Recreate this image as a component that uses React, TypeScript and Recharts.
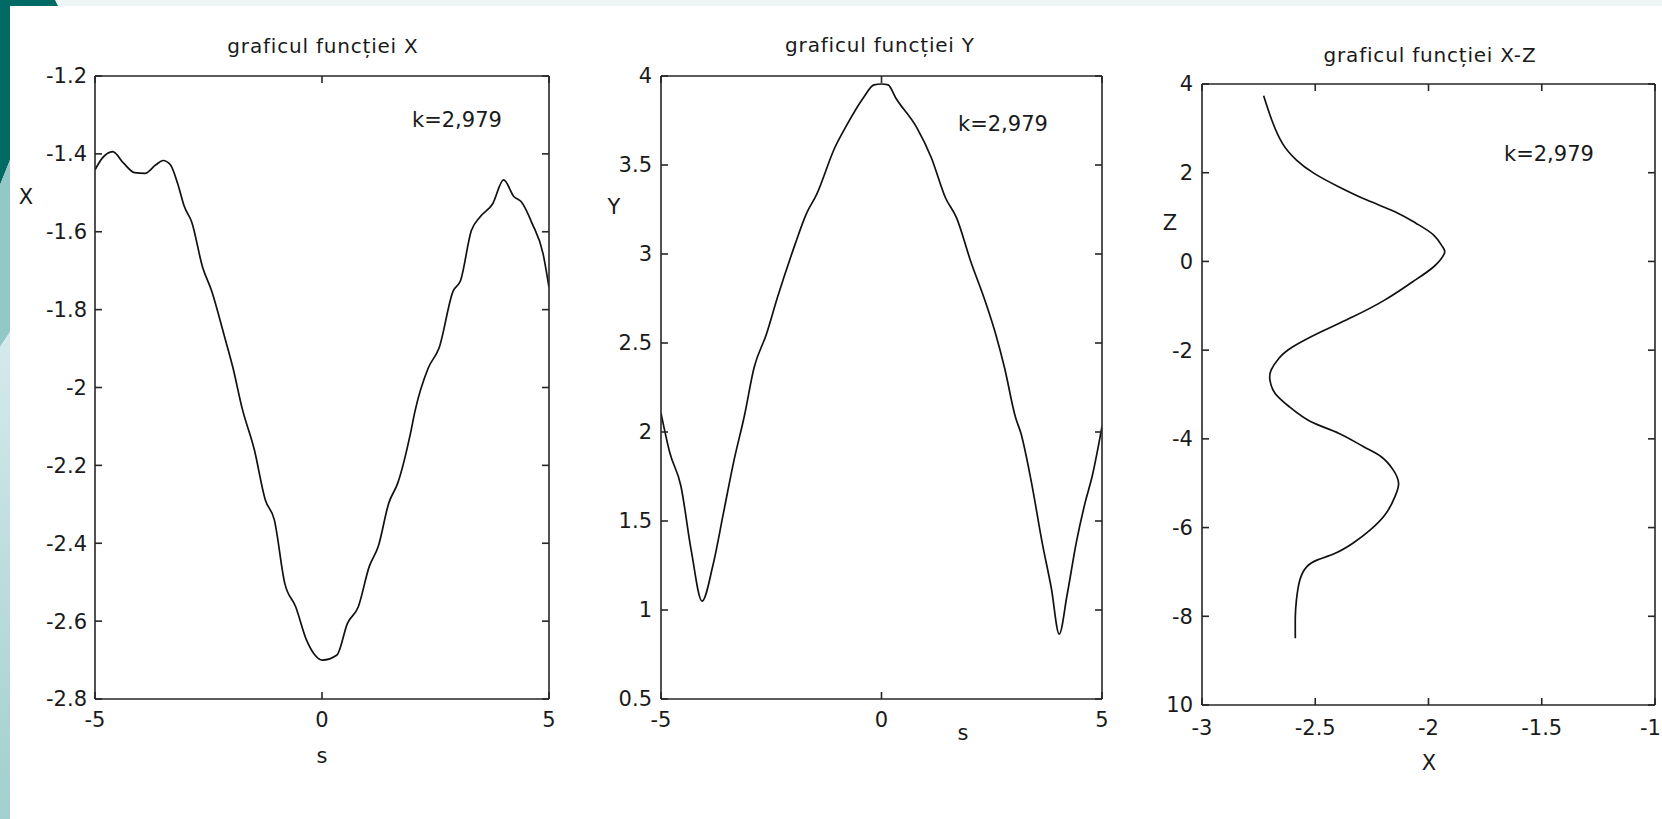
import { LineChart, Line, XAxis, YAxis } from 'recharts'

// graficul functiei X : s -> X
const sForX = [-5, -4.84, -4.61, -4.37, -4.13, -3.9, -3.66, -3.5, -3.34, -3.18, -3.03, -2.87, -2.63, -2.43, -2.16, -1.96, -1.76, -1.49, -1.25, -1.05, -0.82, -0.58, -0.34, -0.17, 0.01, 0.33, 0.56, 0.8, 1.04, 1.24, 1.47, 1.67, 1.95, 2.05, 2.34, 2.58, 2.89, 3.05, 3.29, 3.48, 3.76, 4.0, 4.23, 4.39, 4.63, 4.87, 5]
const xValues = [-1.441, -1.411, -1.394, -1.424, -1.448, -1.45, -1.428, -1.417, -1.428, -1.476, -1.536, -1.575, -1.691, -1.752, -1.864, -1.95, -2.053, -2.16, -2.288, -2.34, -2.503, -2.563, -2.649, -2.685, -2.7, -2.687, -2.606, -2.563, -2.46, -2.408, -2.297, -2.245, -2.117, -2.06, -1.95, -1.898, -1.752, -1.726, -1.597, -1.562, -1.528, -1.467, -1.51, -1.523, -1.579, -1.657, -1.743]

// graficul functiei Y : s -> Y
const sForY = [-5, -4.8, -4.55, -4.31, -4.07, -3.82, -3.58, -3.34, -3.11, -2.89, -2.61, -2.36, -1.96, -1.71, -1.47, -1.06, -0.82, -0.41, -0.17, 0, 0.15, 0.32, 0.8, 1.13, 1.45, 1.7, 2.02, 2.35, 2.59, 2.79, 3.04, 3.16, 3.4, 3.64, 3.85, 4.03, 4.21, 4.42, 4.62, 4.78, 5]
const yValues = [2.106, 1.883, 1.698, 1.328, 1.05, 1.254, 1.55, 1.846, 2.09, 2.361, 2.549, 2.755, 3.054, 3.223, 3.335, 3.597, 3.71, 3.878, 3.95, 3.955, 3.95, 3.878, 3.71, 3.541, 3.316, 3.204, 2.961, 2.736, 2.549, 2.361, 2.081, 1.994, 1.717, 1.383, 1.124, 0.865, 1.087, 1.383, 1.606, 1.754, 2.03]

// graficul functiei X-Z : parametric curve, in drawing order
const xzX = [-2.728, -2.692, -2.645, -2.583, -2.505, -2.397, -2.272, -2.148, -2.054, -1.977, -1.938, -1.93, -1.977, -2.07, -2.194, -2.334, -2.474, -2.599, -2.661, -2.695, -2.7, -2.677, -2.614, -2.521, -2.397, -2.288, -2.21, -2.156, -2.132, -2.148, -2.187, -2.257, -2.334, -2.412, -2.49, -2.537, -2.568, -2.583, -2.588, -2.588]
const xzZ = [3.737, 3.188, 2.662, 2.286, 1.985, 1.684, 1.383, 1.12, 0.857, 0.594, 0.331, 0.18, -0.12, -0.459, -0.872, -1.248, -1.586, -1.925, -2.188, -2.451, -2.677, -2.977, -3.278, -3.609, -3.872, -4.173, -4.398, -4.699, -5.0, -5.301, -5.677, -6.053, -6.353, -6.579, -6.729, -6.88, -7.18, -7.632, -8.008, -8.496]

const sTicks = [-5, 0, 5]
const xTicks = [-2.8, -2.6, -2.4, -2.2, -2, -1.8, -1.6, -1.4, -1.2]
const yTicks = [0.5, 1, 1.5, 2, 2.5, 3, 3.5, 4]
const xzXTicks = [-3, -2.5, -2, -1.5, -1]
const zTicks = [-10, -8, -6, -4, -2, 0, 2, 4]
const zTickLabels = ['10', '-8', '-6', '-4', '-2', '0', '2', '4']

const titles = ['graficul funcției X', 'graficul funcției Y', 'graficul funcției X-Z']
const kLabel = 'k=2,979'

const dataX = sForX.map((s, i) => ({ s, v: xValues[i] }))
const dataY = sForY.map((s, i) => ({ s, v: yValues[i] }))
const dataXZ = xzX.map((x, i) => ({ x, z: xzZ[i] }))

const FONT = '"DejaVu Sans", sans-serif'
const INK = '#1a1a1a'
const frame = { stroke: '#262626', strokeWidth: 1.6 }
const tickText = { fill: INK, fontSize: 21, fontFamily: FONT }

// bottom tick label; a label that would run past the page edge is pulled back inside
function BottomTick(props: any) {
  const { x, y, payload, limit } = props
  const label = String(payload.value)
  const half = (label.length * 11) / 2
  const atEdge = x + half > limit
  return (
    <text
      x={atEdge ? limit : x}
      y={y}
      dy={15}
      textAnchor={atEdge ? 'end' : 'middle'}
      fill={INK}
      fontSize={21}
      fontFamily={FONT}
    >
      {label}
    </text>
  )
}

// mirrored box sides keep their tick marks but carry no labels
const noLabel = () => <g />

interface PanelProps {
  left: number
  width: number
  margin: { top: number; right: number; bottom: number; left: number }
  data: Record<string, number>[]
  xKey: string
  yKey: string
  xDomain: [number, number]
  xTicks: number[]
  yDomain: [number, number]
  yTicks: number[]
  xTickMargin: number
  yTickMargin: number
  yFormat?: (v: number) => string
  curve: 'monotone' | 'natural' | 'linear'
}

function Panel(p: PanelProps) {
  const limit = p.width - 1
  return (
    <div style={{ position: 'absolute', left: p.left, top: 0 }}>
      <LineChart width={p.width} height={819} data={p.data} margin={p.margin}>
        <XAxis
          xAxisId="b"
          dataKey={p.xKey}
          type="number"
          domain={p.xDomain}
          ticks={p.xTicks}
          allowDataOverflow
          interval={0}
          height={60}
          axisLine={frame}
          tickLine={frame}
          tickSize={-7}
          tickMargin={p.xTickMargin}
          tick={(props: any) => <BottomTick {...props} limit={limit} />}
        />
        <XAxis
          xAxisId="t"
          orientation="top"
          dataKey={p.xKey}
          type="number"
          domain={p.xDomain}
          ticks={p.xTicks}
          allowDataOverflow
          interval={0}
          height={1}
          axisLine={frame}
          tickLine={frame}
          tickSize={-7}
          tick={noLabel}
        />
        <YAxis
          yAxisId="l"
          dataKey={p.yKey}
          type="number"
          domain={p.yDomain}
          ticks={p.yTicks}
          allowDataOverflow
          interval={0}
          width={60}
          axisLine={frame}
          tickLine={frame}
          tickSize={-7}
          tickMargin={p.yTickMargin}
          tick={tickText}
          tickFormatter={p.yFormat}
        />
        <YAxis
          yAxisId="r"
          orientation="right"
          dataKey={p.yKey}
          type="number"
          domain={p.yDomain}
          ticks={p.yTicks}
          allowDataOverflow
          interval={0}
          width={1}
          axisLine={frame}
          tickLine={frame}
          tickSize={-7}
          tick={noLabel}
        />
        <Line
          xAxisId="b"
          yAxisId="l"
          dataKey={p.yKey}
          type={p.curve}
          stroke="#111"
          strokeWidth={1.7}
          dot={false}
          activeDot={false}
          isAnimationActive={false}
        />
      </LineChart>
    </div>
  )
}

export default function App() {
  return (
    <div
      style={{
        position: 'absolute',
        left: 0,
        top: 0,
        width: 1662,
        height: 819,
        overflow: 'hidden',
        background: '#fff',
      }}
    >
      {/* slide decoration on the left and top */}
      <svg width={1662} height={819} style={{ position: 'absolute', left: 0, top: 0 }}>
        <defs>
          <linearGradient id="strip" x1="0" y1="0" x2="0" y2="1">
            <stop offset="0%" stopColor="#d6eaea" />
            <stop offset="100%" stopColor="#a2cfcf" />
          </linearGradient>
        </defs>
        <rect x={0} y={0} width={1662} height={6} fill="#eef5f5" />
        <polygon points="0,0 55,0 58,6 10,6 10,160 0,185" fill="#006a64" />
        <polygon points="0,185 10,160 10,332 0,347" fill="#93c8c8" />
        <polygon points="0,347 10,332 10,819 0,819" fill="url(#strip)" />
      </svg>

      <Panel
        left={0}
        width={560}
        margin={{ top: 75, right: 10, bottom: 60, left: 35 }}
        data={dataX}
        xKey="s"
        yKey="v"
        xDomain={[-5, 5]}
        xTicks={sTicks}
        yDomain={[-2.8, -1.2]}
        yTicks={xTicks}
        xTickMargin={20}
        yTickMargin={15}
        curve="monotone"
      />
      <Panel
        left={560}
        width={560}
        margin={{ top: 75, right: 17, bottom: 60, left: 41 }}
        data={dataY}
        xKey="s"
        yKey="v"
        xDomain={[-5, 5]}
        xTicks={sTicks}
        yDomain={[0.5, 4]}
        yTicks={yTicks}
        xTickMargin={20}
        yTickMargin={16}
        curve="monotone"
      />
      <Panel
        left={1110}
        width={552}
        margin={{ top: 83, right: 6, bottom: 54, left: 32 }}
        data={dataXZ}
        xKey="x"
        yKey="z"
        xDomain={[-3, -1]}
        xTicks={xzXTicks}
        yDomain={[-10, 4]}
        yTicks={zTicks}
        xTickMargin={22}
        yTickMargin={16}
        yFormat={(v: number) => zTickLabels[zTicks.indexOf(v)]}
        curve="natural"
      />

      {/* titles, annotations and axis names */}
      <svg
        width={1662}
        height={819}
        style={{ position: 'absolute', left: 0, top: 0, pointerEvents: 'none' }}
        fontFamily={FONT}
        fill={INK}
      >
        <text x={323} y={53} fontSize={20} letterSpacing={0.8} textAnchor="middle">{titles[0]}</text>
        <text x={880} y={52} fontSize={20} letterSpacing={0.8} textAnchor="middle">{titles[1]}</text>
        <text x={1430} y={62} fontSize={20} letterSpacing={0.8} textAnchor="middle">{titles[2]}</text>

        <text x={412} y={127} fontSize={21}>{kLabel}</text>
        <text x={958} y={131} fontSize={21}>{kLabel}</text>
        <text x={1504} y={161} fontSize={21}>{kLabel}</text>

        <text x={26} y={204} fontSize={21} textAnchor="middle">X</text>
        <text x={614} y={214} fontSize={21} textAnchor="middle">Y</text>
        <text x={1170} y={230} fontSize={21} textAnchor="middle">Z</text>

        <text x={322} y={763} fontSize={21} textAnchor="middle">s</text>
        <text x={963} y={740} fontSize={21} textAnchor="middle">s</text>
        <text x={1429} y={770} fontSize={21} textAnchor="middle">X</text>
      </svg>
    </div>
  )
}
